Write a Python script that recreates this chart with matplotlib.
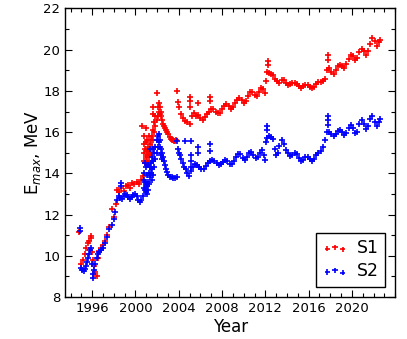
import matplotlib
matplotlib.use("Agg")
import matplotlib.pyplot as plt
from matplotlib.ticker import MultipleLocator

# ---------------- data ----------------
s1_year = [
    1994.80, 1995.00, 1995.15, 1995.30, 1995.45, 1995.60, 1995.75, 1995.85, 1995.85,
    1996.00, 1996.10, 1996.20, 1996.30, 1996.40, 1996.50, 1996.60, 1996.80, 1997.00,
    1997.20, 1997.40, 1997.60, 1997.85, 1998.00, 1998.20, 1998.30, 1998.50, 1998.70,
    1998.90, 1999.10, 1999.30, 1999.50, 1999.70, 1999.90, 2000.10, 2000.30, 2000.50,
    2000.60, 2000.70,
    2000.75, 2000.75, 2000.75, 2000.75, 2000.85, 2000.85, 2000.95, 2000.95, 2000.95,
    2001.05, 2001.05, 2001.05, 2001.15, 2001.15, 2001.15, 2001.25, 2001.25, 2001.25,
    2001.35, 2001.35, 2001.45, 2001.45, 2001.55, 2001.55, 2001.65, 2001.65, 2001.65,
    2001.65, 2001.75, 2001.75, 2001.85, 2001.85, 2001.97, 2001.97, 2002.05, 2002.05,
    2002.15, 2002.15, 2002.25, 2002.25, 2002.35, 2002.35, 2002.45, 2002.55, 2002.65,
    2002.75, 2002.85, 2002.95, 2003.05, 2003.15, 2003.25, 2003.35, 2003.45, 2003.55,
    2003.65, 2003.75, 2003.85, 2003.90,
    2004.00, 2004.20, 2004.40, 2004.60, 2004.80, 2005.00, 2005.05, 2005.05, 2005.05,
    2005.20, 2005.40, 2005.60, 2005.80, 2005.80, 2006.00, 2006.20, 2006.40, 2006.60,
    2006.80, 2006.90, 2006.90, 2007.00, 2007.20, 2007.40, 2007.60, 2007.80, 2008.00,
    2008.20, 2008.40, 2008.60, 2008.80, 2009.00, 2009.20, 2009.40, 2009.60, 2009.80,
    2010.00, 2010.20, 2010.40, 2010.60, 2010.80, 2011.00, 2011.20, 2011.40, 2011.60,
    2011.80, 2012.00, 2012.10, 2012.20, 2012.25, 2012.25, 2012.35, 2012.50, 2012.70,
    2012.90, 2013.10, 2013.30, 2013.50, 2013.70, 2013.90, 2014.10, 2014.30, 2014.50,
    2014.70, 2014.90, 2015.10, 2015.30, 2015.50, 2015.70, 2015.90, 2016.10, 2016.30,
    2016.50, 2016.70, 2016.90, 2017.10, 2017.30, 2017.50, 2017.70, 2017.80, 2017.80,
    2017.90, 2018.10, 2018.30, 2018.50, 2018.70, 2018.90, 2019.10, 2019.30, 2019.50,
    2019.70, 2019.90, 2020.10, 2020.30, 2020.50, 2020.70, 2020.90, 2021.10, 2021.30,
    2021.50, 2021.70, 2021.90, 2022.10, 2022.30, 2022.50, 2022.60,
]
s1_emax = [
    11.15, 9.60, 9.80, 10.10, 10.40, 10.60, 10.70, 10.95, 10.85,
    10.20, 9.80, 9.50, 9.20, 9.00, 9.90, 10.25, 10.40, 10.50,
    10.70, 11.00, 11.40, 12.25, 11.90, 12.50, 13.20, 13.10, 13.30,
    13.15, 13.40, 13.45, 13.30, 13.55, 13.50, 13.60, 13.50, 13.70,
    16.30, 13.85,
    14.60, 15.00, 15.40, 15.80, 14.50, 15.20, 14.80, 15.50, 16.20,
    14.60, 15.10, 15.60, 14.40, 14.90, 15.30, 14.60, 15.20, 15.80,
    14.90, 15.40, 15.00, 15.60, 15.30, 15.80, 15.60, 16.10, 16.90,
    17.20, 16.00, 16.50, 16.30, 16.80, 16.60, 17.90, 16.80, 17.20,
    17.00, 17.40, 16.90, 17.20, 16.80, 17.00, 16.60, 16.40, 16.30,
    16.20, 16.10, 16.00, 15.90, 15.75, 15.65, 15.60, 15.60, 15.55,
    15.55, 15.60, 18.00, 17.45,
    17.20, 16.90, 16.70, 16.55, 16.50, 16.40, 17.20, 17.50, 17.70,
    16.80, 16.95, 16.80, 16.85, 17.40, 16.70, 16.60, 16.75, 16.90,
    17.00, 17.70, 17.50, 17.10, 17.10, 17.00, 16.95, 16.95, 17.10,
    17.25, 17.35, 17.25, 17.10, 17.20, 17.40, 17.55, 17.65, 17.55,
    17.40, 17.50, 17.75, 17.95, 17.95, 17.80, 17.75, 17.95, 18.15,
    18.10, 17.90, 18.50, 18.90, 19.25, 19.45, 18.85, 18.80, 18.75,
    18.60, 18.50, 18.40, 18.55, 18.55, 18.40, 18.30, 18.35, 18.40,
    18.40, 18.35, 18.25, 18.15, 18.25, 18.30, 18.30, 18.20, 18.15,
    18.20, 18.35, 18.45, 18.45, 18.50, 18.60, 19.00, 19.50, 19.75,
    19.10, 18.90, 18.80, 19.00, 19.20, 19.25, 19.20, 19.10, 19.30,
    19.55, 19.75, 19.70, 19.50, 19.60, 19.90, 20.05, 19.95, 19.75,
    19.95, 20.30, 20.55, 20.40, 20.20, 20.35, 20.45,
]

s2_year = [
    1994.85, 1994.85, 1995.00, 1995.10, 1995.20, 1995.30, 1995.40, 1995.50, 1995.60,
    1995.70, 1995.80, 1995.90, 1996.00, 1996.05, 1996.10, 1996.20, 1996.30, 1996.40,
    1996.50, 1996.60, 1996.80, 1997.00, 1997.20, 1997.40, 1997.60, 1997.80, 1998.00,
    1998.15, 1998.30, 1998.45, 1998.60, 1998.70, 1998.70, 1998.75, 1998.90, 1999.05,
    1999.20, 1999.35, 1999.50, 1999.65, 1999.80, 1999.95, 2000.10, 2000.25, 2000.40,
    2000.55, 2000.70,
    2000.75, 2000.75, 2000.75, 2000.85, 2000.85, 2000.85, 2000.95, 2000.95, 2000.95,
    2001.05, 2001.05, 2001.05, 2001.15, 2001.15, 2001.15, 2001.25, 2001.25, 2001.30,
    2001.35, 2001.35, 2001.45, 2001.45, 2001.55, 2001.55, 2001.55, 2001.65, 2001.65,
    2001.65, 2001.75, 2001.75, 2001.85, 2001.85, 2001.95, 2001.95, 2002.05, 2002.05,
    2002.15, 2002.15, 2002.25, 2002.25, 2002.35, 2002.35, 2002.45, 2002.45, 2002.55,
    2002.65, 2002.75, 2002.85, 2002.95, 2003.05, 2003.20, 2003.35, 2003.50, 2003.65,
    2003.80, 2003.85, 2003.90, 2004.00, 2004.10, 2004.20, 2004.35, 2004.50, 2004.60,
    2004.65, 2004.80, 2004.95, 2005.10, 2005.10, 2005.10, 2005.10, 2005.10, 2005.30,
    2005.50, 2005.70, 2005.80, 2005.80, 2005.90, 2006.10, 2006.30, 2006.50, 2006.70,
    2006.90, 2006.90, 2006.90, 2007.10, 2007.30, 2007.50, 2007.70, 2007.90, 2008.10,
    2008.30, 2008.50, 2008.70, 2008.90, 2009.10, 2009.30, 2009.50, 2009.70, 2009.90,
    2010.10, 2010.30, 2010.50, 2010.70, 2010.90, 2011.10, 2011.30, 2011.50, 2011.70,
    2011.90, 2012.00, 2012.10, 2012.20, 2012.20, 2012.20, 2012.35, 2012.50, 2012.70,
    2012.85, 2013.00, 2013.15, 2013.30, 2013.50, 2013.70, 2013.90, 2014.10, 2014.30,
    2014.50, 2014.70, 2014.90, 2015.10, 2015.30, 2015.50, 2015.70, 2015.90, 2016.10,
    2016.30, 2016.50, 2016.70, 2016.90, 2017.10, 2017.30, 2017.50, 2017.70, 2017.80,
    2017.80, 2017.80, 2017.90, 2018.10, 2018.30, 2018.50, 2018.70, 2018.90, 2019.10,
    2019.30, 2019.50, 2019.70, 2019.90, 2020.10, 2020.30, 2020.50, 2020.70, 2020.90,
    2021.10, 2021.30, 2021.50, 2021.70, 2021.90, 2022.10, 2022.30, 2022.50, 2022.60,
]
s2_emax = [
    11.35, 11.20, 9.40, 9.30, 9.25, 9.35, 9.50, 9.70, 9.90,
    10.10, 10.30, 10.40, 9.60, 9.10, 8.90, 9.30, 9.60, 9.90,
    10.10, 10.20, 10.30, 10.40, 10.60, 10.90, 11.30, 11.50, 11.80,
    12.10, 12.70, 12.90, 12.80, 13.55, 13.40, 12.75, 12.90, 13.00,
    12.95, 12.85, 12.75, 12.85, 12.95, 13.00, 12.90, 12.70, 12.60,
    12.70, 12.90,
    13.30, 13.70, 14.00, 13.20, 13.60, 14.50, 13.10, 13.50, 14.30,
    13.00, 13.40, 13.90, 13.20, 13.60, 14.40, 13.50, 14.00, 15.20,
    13.80, 14.30, 14.00, 14.50, 13.70, 14.20, 14.80, 13.90, 14.60,
    15.20, 14.30, 15.00, 14.70, 15.30, 15.00, 15.60, 15.30, 15.80,
    15.50, 15.90, 15.60, 15.30, 15.20, 14.90, 15.00, 14.70, 14.80,
    14.60, 14.40, 14.20, 14.05, 13.90, 13.80, 13.80, 13.75, 13.75,
    13.80, 15.55, 15.20, 15.00, 14.90, 14.70, 14.50, 14.30, 15.55,
    14.20, 14.00, 13.85, 14.10, 14.30, 14.60, 14.90, 15.55, 14.30,
    14.45, 14.40, 15.30, 15.00, 14.30, 14.20, 14.20, 14.35, 14.50,
    14.60, 15.40, 15.10, 14.65, 14.60, 14.50, 14.40, 14.45, 14.55,
    14.65, 14.60, 14.45, 14.45, 14.60, 14.80, 14.95, 14.95, 14.75,
    14.65, 14.80, 15.00, 15.05, 14.90, 14.75, 14.80, 15.00, 15.15,
    14.90, 14.65, 15.50, 15.70, 16.30, 16.10, 15.80, 15.75, 15.65,
    15.20, 14.90, 15.00, 15.35, 15.60, 15.40, 15.15, 15.00, 14.85,
    14.90, 15.00, 14.95, 14.75, 14.60, 14.65, 14.80, 14.80, 14.70,
    14.60, 14.70, 14.90, 15.00, 15.10, 15.30, 15.60, 16.00, 16.35,
    16.60, 16.80, 16.00, 15.90, 15.80, 15.90, 16.05, 16.10, 16.00,
    15.85, 15.95, 16.20, 16.35, 16.20, 15.95, 16.00, 16.40, 16.60,
    16.40, 16.15, 16.30, 16.65, 16.80, 16.50, 16.30, 16.50, 16.65,
]

series_labels = ["S1", "S2"]
x_label = "Year"
y_label = r"E$_{max}$, MeV"

# ---------------- plot ----------------
plt.rcParams["font.family"] = ["DejaVu Sans"]
fig = plt.figure(figsize=(4.07, 3.39), dpi=100)
ax = fig.add_axes([0.160, 0.124, 0.811, 0.851])

ax.scatter(s1_year, s1_emax, marker="+", s=22, linewidths=1.2, color="red",
           label=series_labels[0], zorder=2)
ax.scatter(s2_year, s2_emax, marker="+", s=22, linewidths=1.2, color="blue",
           label=series_labels[1], zorder=3)

ax.set_xlim(1993.5, 2024.0)
ax.set_ylim(8, 22)
ax.xaxis.set_major_locator(MultipleLocator(4))
ax.xaxis.set_minor_locator(MultipleLocator(1))
ax.yaxis.set_major_locator(MultipleLocator(2))
ax.yaxis.set_minor_locator(MultipleLocator(1))
ax.tick_params(which="both", direction="in", top=True, right=True, labelsize=9.5)
ax.tick_params(which="major", length=5, width=0.8)
ax.tick_params(which="minor", length=3, width=0.8)
ax.set_xticks([1996, 2000, 2004, 2008, 2012, 2016, 2020])
ax.set_xlabel(x_label, fontsize=12, labelpad=2)
ax.set_ylabel(y_label, fontsize=12, labelpad=0)
for sp in ax.spines.values():
    sp.set_linewidth(1.0)

leg = ax.legend(loc="lower right", scatterpoints=3, fontsize=12.5, fancybox=False,
                edgecolor="black", framealpha=1.0, borderaxespad=0.6,
                handlelength=1.5, handletextpad=0.5, borderpad=0.35,
                labelspacing=0.3, markerscale=0.8)
leg.get_frame().set_linewidth(1.0)

fig.savefig("out.png", dpi=100)
